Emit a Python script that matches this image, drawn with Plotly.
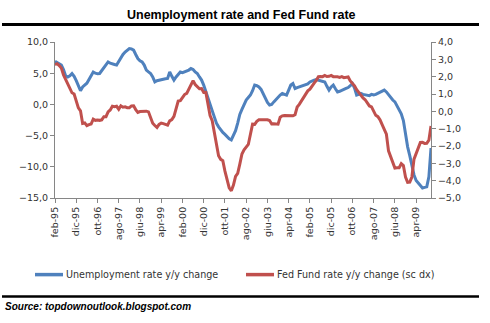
import plotly.graph_objects as go

# ---- data -------------------------------------------------------------
MONTHS = ["gen", "feb", "mar", "apr", "mag", "giu", "lug", "ago", "set", "ott", "nov", "dic"]
# categories: feb-95 ... nov-09 (178 monthly points)
categories = []
_m, _y = 1, 1995
for _ in range(178):
    categories.append(f"{MONTHS[_m]}-{_y % 100:02d}")
    _m += 1
    if _m == 12:
        _m, _y = 0, _y + 1

tick_labels = ["feb-95", "dic-95", "ott-96", "ago-97", "giu-98", "apr-99", "feb-00", "dic-00",
               "ott-01", "ago-02", "giu-03", "apr-04", "feb-05", "dic-05", "ott-06", "ago-07",
               "giu-08", "apr-09"]

series_names = ["Unemployment rate y/y change", "Fed Fund rate y/y change (sc dx)"]

unemployment_yy = [
    6.9, 6.7, 6.55, 6.3, 5.6, 4.6, 4.4, 4.6, 4.95, 4.5, 3.8, 3.0,
    2.2, 2.8, 3.1, 3.4, 4.0, 4.6, 5.2, 5.0, 4.9, 4.95, 5.4, 6.0,
    6.4, 6.8, 6.6, 6.55, 6.4, 6.3, 6.9, 7.5, 8.0, 8.4, 8.7, 8.95,
    8.9, 8.7, 8.0, 7.35, 7.0, 6.8, 6.3, 5.5, 5.2, 4.95, 4.4, 3.6,
    3.8, 3.9, 3.9, 4.0, 4.1, 4.15, 5.2, 4.5, 3.9, 4.4, 4.9, 5.2,
    5.1, 5.2, 5.3, 5.5, 5.75, 5.6, 5.2, 4.95, 4.4, 3.9, 3.1, 2.0,
    0.9, -0.1, -1.0, -2.0, -3.0, -3.6, -4.1, -4.5, -4.8, -5.2, -5.5, -5.7,
    -5.0, -4.2, -3.0, -1.6, -0.8, 0.0, 0.7, 1.1, 1.5, 2.2, 3.1, 3.0,
    2.8, 2.4, 1.6, 1.0, 0.3, -0.1, 0.0, 0.4, 0.8, 1.2, 1.5, 1.75,
    1.6, 1.5, 2.3, 3.1, 3.35, 2.55, 2.7, 2.8, 2.9, 3.0, 3.1, 3.3,
    3.6, 3.8, 3.9, 4.0, 3.9, 3.9, 3.8, 3.6, 2.9, 2.3, 2.8, 3.1,
    2.5, 2.0, 2.1, 2.3, 2.4, 2.55, 2.7, 3.0, 3.35, 2.6, 1.5, 1.6,
    1.75, 1.6, 1.5, 1.5, 1.4, 1.6, 1.5, 1.6, 1.75, 2.0, 2.1, 2.3,
    2.0, 1.5, 1.2, 0.7, 0.4, -0.2, -0.9, -1.5, -2.6, -4.8, -6.8, -8.2,
    -9.8, -11.3, -12.2, -12.6, -13.0, -13.4, -13.3, -13.2, -11.6, -7.0,
]

fedfund_yy = [
    2.7, 2.75, 2.64, 2.49, 2.1, 1.85, 1.6, 1.3, 1.07, 1.0, 0.6, 0.2,
    0.03, -0.70, -0.67, -0.83, -0.77, -0.73, -0.45, -0.52, -0.50, -0.52, -0.49, -0.31,
    -0.31, -0.03, 0.08, 0.29, 0.26, 0.29, 0.12, 0.32, 0.24, 0.26, 0.21, 0.21,
    0.31, 0.32, 0.10, -0.06, -0.01, 0.00, 0.02, 0.01, -0.03, -0.43, -0.69, -0.82,
    -0.93, -0.75, -0.68, -0.71, -0.75, -0.80, -0.55, -0.48, -0.29, 0.13, 0.59, 0.62,
    0.82, 0.97, 1.04, 1.28, 1.53, 1.77, 1.55, 1.43, 1.30, 1.31, 1.09, 1.10,
    0.53, -0.24, -0.54, -1.22, -2.06, -2.56, -2.77, -2.85, -3.45, -4.02, -4.42, -4.58,
    -4.25, -3.75, -3.58, -3.05, -2.46, -2.22, -2.04, -1.91, -1.32, -0.74, -0.75, -0.58,
    -0.49, -0.48, -0.48, -0.49, -0.49, -0.53, -0.72, -0.71, -0.74, -0.74, -0.34, -0.26,
    -0.24, -0.25, -0.25, -0.26, -0.26, -0.19, 0.25, 0.40, 0.60, 0.75, 0.93, 1.18,
    1.28, 1.49, 1.63, 1.79, 2.00, 2.01, 2.00, 2.07, 2.01, 2.02, 2.07, 2.00,
    2.01, 1.99, 1.96, 2.00, 1.94, 1.95, 1.98, 1.75, 1.63, 1.47, 1.25, 1.08,
    0.96, 0.77, 0.67, 0.46, 0.31, 0.26, 0.02, -0.23, -0.31, -0.49, -0.76, -1.00,
    -1.31, -2.28, -2.65, -2.97, -3.27, -3.25, -3.25, -3.02, -3.13, -3.79, -4.10, -4.08,
    -3.79, -2.76, -2.43, -2.13, -1.80, -1.79, -1.85, -1.84, -1.66, -0.85,
]

left_ticks = [-15, -10, -5, 0, 5, 10]
right_ticks = [-5, -4, -3, -2, -1, 0, 1, 2, 3, 4]

# ---- layout geometry ---------------------------------------------------
W, H = 490, 323
PL, PR, PT, PB = 55, 431, 41.7, 198.5


def px(xp):
    return (xp - PL) / (PR - PL)


def py(yp):
    return (PB - yp) / (PB - PT)


BLUE = "#4F81BD"
RED = "#C0504D"
AXIS = "#868686"
TXT = "#333333"
FONT = "DejaVu Sans"

fig = go.Figure()
fig.add_trace(go.Scatter(x=categories, y=unemployment_yy, mode="lines",
                         name=series_names[0], line=dict(color=BLUE, width=3)))
fig.add_trace(go.Scatter(x=categories, y=fedfund_yy, mode="lines",
                         name=series_names[1], yaxis="y2", line=dict(color=RED, width=3)))

fig.update_layout(
    width=W, height=H,
    margin=dict(l=PL, r=W - PR, t=PT, b=H - PB),
    paper_bgcolor="white", plot_bgcolor="white",
    separators=",.",
    showlegend=False,
    xaxis=dict(type="category", range=[0, len(categories) - 1],
               tickmode="array", tickvals=tick_labels, ticktext=tick_labels,
               tickangle=-90, ticks="outside", ticklen=4, tickcolor=AXIS,
               showline=True, linecolor=AXIS, linewidth=1, showgrid=False, zeroline=False,
               tickfont=dict(family=FONT, size=9.5, color=TXT)),
    yaxis=dict(range=[-15, 10], tickvals=left_ticks, tickformat=".1f",
               ticks="outside", ticklen=4, tickcolor=AXIS,
               showline=True, linecolor=AXIS, linewidth=1, showgrid=False, zeroline=False,
               tickfont=dict(family=FONT, size=9.5, color=TXT)),
    yaxis2=dict(range=[-5, 4], tickvals=right_ticks, tickformat=".1f", overlaying="y",
                side="right", ticks="outside", ticklen=4, tickcolor=AXIS,
                showline=True, linecolor=AXIS, linewidth=1, showgrid=False, zeroline=False,
                tickfont=dict(family=FONT, size=9.5, color=TXT)),
)

# manual legend (line samples + labels)
legend_items = [(35, 63, BLUE), (246, 274, RED)]
for (x0, x1, col), name in zip(legend_items, series_names):
    fig.add_shape(type="line", xref="paper", yref="paper", x0=px(x0), x1=px(x1),
                  y0=py(275.5), y1=py(275.5), line=dict(color=col, width=3.5))
    fig.add_annotation(text=name, xref="paper", yref="paper", x=px(x1 + 1), y=py(275.5),
                       showarrow=False, xanchor="left", yanchor="middle",
                       font=dict(family=FONT, size=9.6, color=TXT))

# title and rules
fig.add_annotation(text="<b>Unemployment rate and Fed Fund rate</b>", xref="paper", yref="paper",
                   x=px(241), y=py(15), showarrow=False, xanchor="center", yanchor="middle",
                   font=dict(family="Liberation Sans", size=12.5, color="black"))
fig.add_shape(type="line", xref="paper", yref="paper", x0=px(2), x1=px(479), y0=py(24), y1=py(24),
              line=dict(color="black", width=3))
fig.add_shape(type="line", xref="paper", yref="paper", x0=px(2), x1=px(479), y0=py(297.5), y1=py(297.5),
              line=dict(color="black", width=2.5))
fig.add_annotation(text="<b><i>Source: topdownoutlook.blogspot.com</i></b>", xref="paper", yref="paper",
                   x=px(3), y=py(308), showarrow=False, xanchor="left", yanchor="middle",
                   font=dict(family="Liberation Sans", size=10, color="black"))

fig.write_html("out.html")
